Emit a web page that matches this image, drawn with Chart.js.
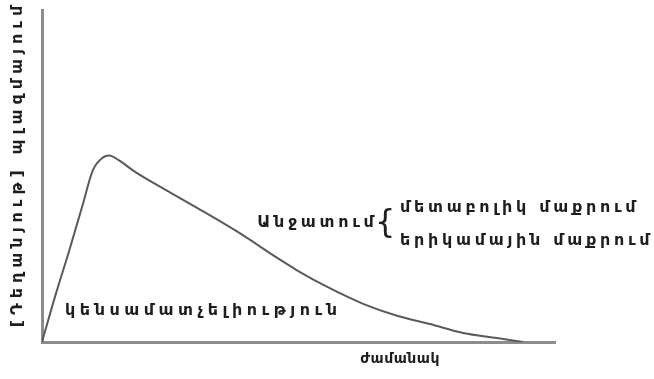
<!DOCTYPE html>
<html>
<head>
<meta charset="utf-8">
<script src="https://cdn.jsdelivr.net/npm/chart.js@4"></script>
<style>
  html, body { margin: 0; padding: 0; background: #fff; }
  #wrap { width: 654px; height: 379px; }
</style>
</head>
<body>
<div id="wrap"><canvas id="pkChart"></canvas></div>
<script>
// Կորի կետերը (ժամանակ, կոնցենտրացիա) — պայմանական միավորներ
const timePoints = [0, 2.7, 5.3, 8.0, 9.9, 11.9, 13.1, 15.0, 18.3, 24.0, 30.8, 38.0, 46.4, 49.7, 56.1, 62.6, 69.2, 75.6, 82.1, 88.7, 93.8];
const concValues = [0, 14.5, 27.5, 41.7, 51.7, 55.6, 56.2, 54.7, 51.1, 45.9, 39.9, 33.3, 24.8, 21.6, 16.2, 11.5, 7.9, 5.4, 2.7, 1.2, 0];

const yTitle = '[Դեղանյութ] պլազմայում';
const xTitle = 'ժամանակ';
const eliminationLabel = 'Անջատում';
const eliminationItems = ['մետաբոլիկ մաքրում', 'երիկամային մաքրում'];
const bioLabel = 'կենսամատչելիություն';

const textColor = '#1e1e1e';
const labelFont = 'bold 16px "DejaVu Sans"';

// Տեքստերի գծում գրաֆիկի վրա
const labelsPlugin = {
    id: 'labelsPlugin',
    afterDraw(chart) {
        const ctx = chart.ctx;
        const x = chart.scales.x;
        const y = chart.scales.y;
        ctx.save();
        ctx.fillStyle = textColor;
        ctx.textBaseline = 'middle';
        ctx.font = labelFont;

        ctx.letterSpacing = '4.5px';
        ctx.textAlign = 'left';
        ctx.fillText(bioLabel, x.getPixelForValue(4.5), y.getPixelForValue(9.4));

        ctx.letterSpacing = '3.7px';
        ctx.textAlign = 'right';
        ctx.fillText(eliminationLabel, x.getPixelForValue(65.4), y.getPixelForValue(36));

        ctx.letterSpacing = '0px';
        ctx.font = '32px "DejaVu Sans"';
        ctx.textAlign = 'center';
        ctx.fillText('{', x.getPixelForValue(66.9), y.getPixelForValue(35.5));

        ctx.font = labelFont;
        ctx.letterSpacing = '3.7px';
        ctx.textAlign = 'left';
        ctx.fillText(eliminationItems[0], x.getPixelForValue(69.8), y.getPixelForValue(40.5));
        ctx.fillText(eliminationItems[1], x.getPixelForValue(69.8), y.getPixelForValue(30.5));

        ctx.font = 'bold 14px "DejaVu Sans"';
        ctx.letterSpacing = '0.5px';
        ctx.textAlign = 'center';
        ctx.fillText(xTitle, x.getPixelForValue(69.8), chart.chartArea.bottom + 17);

        // y առանցքի անվանումը
        ctx.font = labelFont;
        ctx.translate(18, (chart.chartArea.top + chart.chartArea.bottom) / 2 - 12);
        ctx.rotate(-Math.PI / 2);
        ctx.letterSpacing = '5px';
        ctx.fillText(yTitle, 0, 0);
        ctx.restore();
    }
};

const ctx = document.getElementById('pkChart').getContext('2d');
new Chart(ctx, {
    type: 'line',
    data: {
        datasets: [{
            data: timePoints.map((t, i) => ({ x: t, y: concValues[i] })),
            borderColor: '#5a5a5a',
            borderWidth: 2,
            pointRadius: 0,
            fill: false,
            cubicInterpolationMode: 'monotone'
        }]
    },
    options: {
        responsive: true,
        maintainAspectRatio: false,
        animation: false,
        layout: { padding: { top: 10, right: 99, bottom: 29, left: 34 } },
        plugins: {
            legend: { display: false },
            tooltip: { enabled: false }
        },
        scales: {
            x: {
                type: 'linear',
                min: 0,
                max: 100,
                ticks: { display: false },
                grid: { display: false },
                border: { display: true, color: '#8c8c8c', width: 3 }
            },
            y: {
                min: 0,
                max: 100,
                ticks: { display: false },
                grid: { display: false },
                border: { display: true, color: '#8c8c8c', width: 3 }
            }
        }
    },
    plugins: [labelsPlugin]
});
</script>
</body>
</html>
